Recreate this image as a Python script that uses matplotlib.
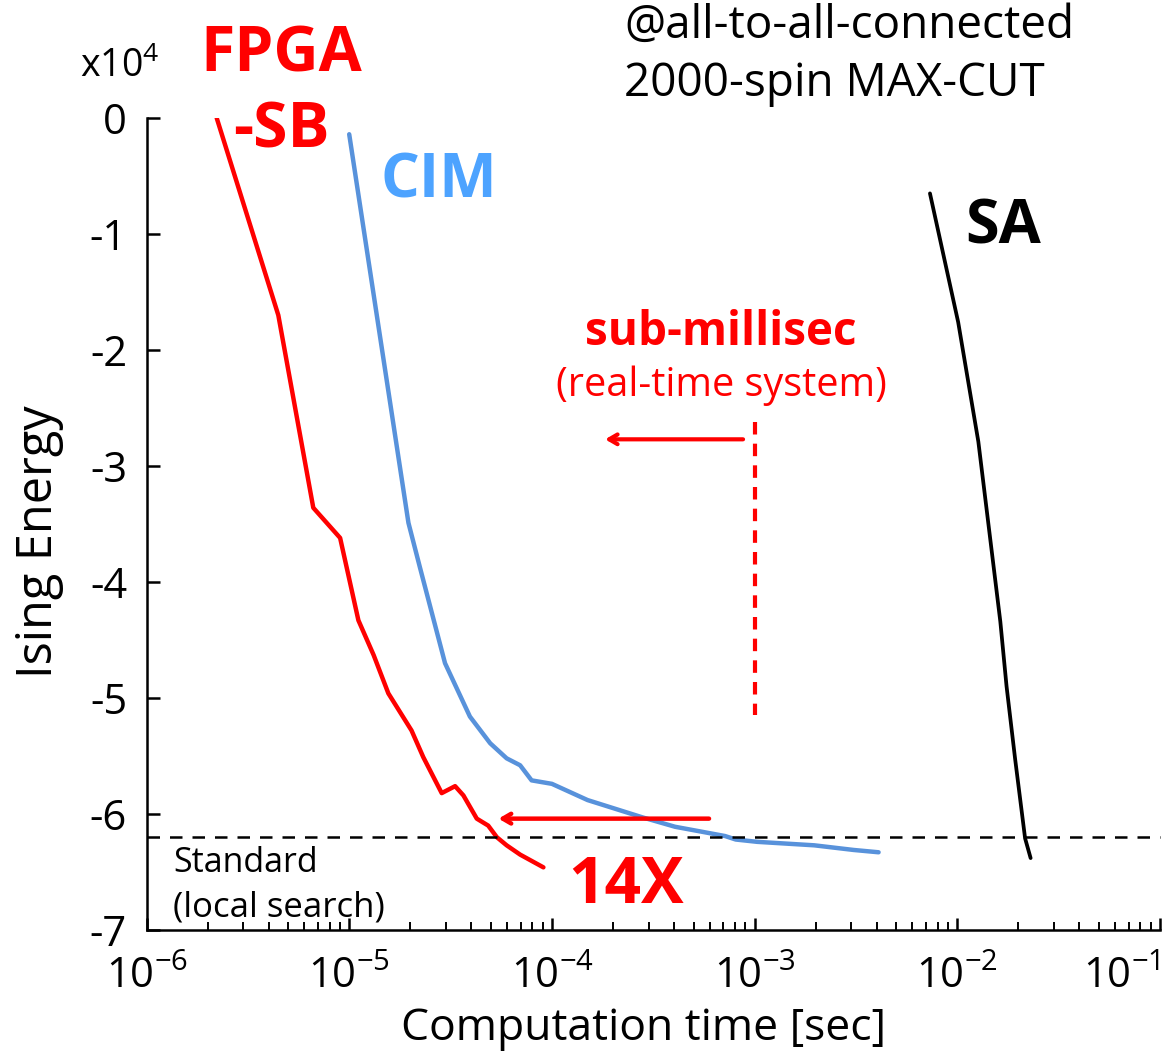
import matplotlib
matplotlib.use('Agg')
import matplotlib.pyplot as plt
from matplotlib.ticker import LogLocator, NullFormatter

plt.rcParams['font.family'] = ['Open Sans', 'DejaVu Sans']
plt.rcParams['mathtext.fontset'] = 'custom'
plt.rcParams['mathtext.rm'] = 'Open Sans'
plt.rcParams['mathtext.it'] = 'Open Sans'
plt.rcParams['mathtext.bf'] = 'Open Sans:bold'
plt.rcParams['mathtext.default'] = 'regular'

# ---- data (energy in units of 1e4) ----
fpga_t = [2.22e-6, 4.47e-6, 6.65e-6, 9.02e-6, 1.11e-5, 1.32e-5, 1.56e-5, 2.03e-5,
          2.32e-5, 2.86e-5, 3.33e-5, 3.66e-5, 4.26e-5, 4.85e-5, 5.35e-5, 5.98e-5,
          6.97e-5, 9.08e-5]
fpga_e = [0.0, -1.70, -3.36, -3.62, -4.33, -4.63, -4.96, -5.28,
          -5.51, -5.82, -5.76, -5.84, -6.04, -6.10, -6.20, -6.27,
          -6.35, -6.46]

cim_t = [1.0e-5, 1.96e-5, 2.23e-5, 2.97e-5, 3.94e-5, 4.96e-5, 5.98e-5, 6.97e-5,
         7.94e-5, 1.0e-4, 1.50e-4, 2.81e-4, 4.05e-4, 7.15e-4, 8.07e-4, 1.03e-3,
         1.97e-3, 3.08e-3, 4.09e-3]
cim_e = [-0.14, -3.49, -3.87, -4.70, -5.16, -5.39, -5.52, -5.58,
         -5.71, -5.74, -5.88, -6.03, -6.11, -6.19, -6.22, -6.24,
         -6.27, -6.31, -6.33]

sa_t = [7.33e-3, 1.01e-2, 1.27e-2, 1.63e-2, 1.75e-2, 1.93e-2, 2.16e-2, 2.30e-2]
sa_e = [-0.65, -1.76, -2.79, -4.34, -4.90, -5.53, -6.21, -6.38]

standard_e = -6.2
xticks = [1e-6, 1e-5, 1e-4, 1e-3, 1e-2, 1e-1]
xtick_labels = ['$10^{-6}$', '$10^{-5}$', '$10^{-4}$', '$10^{-3}$', '$10^{-2}$', '$10^{-1}$']
yticks = [-7, -6, -5, -4, -3, -2, -1, 0]
ytick_labels = ['-7', '-6', '-5', '-4', '-3', '-2', '-1', '0']

RED = '#ff0000'
BLUE_LINE = '#5892db'
BLUE_TEXT = '#4da3ff'

W, H = 1165, 1054
fig = plt.figure(figsize=(W / 100, H / 100), dpi=100)
ax = fig.add_axes([146.5 / W, 1 - 930 / H, (1160 - 146.5) / W, (930 - 118) / H])
ax.set_xscale('log')
ax.set_xlim(1e-6, 1e-1)
ax.set_ylim(-7, 0)

for s in ['top', 'right']:
    ax.spines[s].set_visible(False)
for s in ['left', 'bottom']:
    ax.spines[s].set_linewidth(1.8)

ax.plot(fpga_t, fpga_e, color=RED, lw=3.2, solid_capstyle='round', solid_joinstyle='round')
ax.plot(cim_t, cim_e, color=BLUE_LINE, lw=3.2, solid_capstyle='round', solid_joinstyle='round')
ax.plot(sa_t, sa_e, color='black', lw=2.7, solid_capstyle='round', solid_joinstyle='round')

ax.axhline(standard_e, xmin=0, xmax=1.0, color='black', lw=1.8, ls=(0, (5, 4)), clip_on=False)

# vertical 1 ms dashed line
ax.plot([1e-3, 1e-3], [-2.62, -5.15], color=RED, lw=3.0, ls=(0, (3.0, 2.2)))
# arrows
ax.annotate('', xy=(1.83e-4, -2.77), xytext=(8.77e-4, -2.77),
            arrowprops=dict(arrowstyle='->,head_length=0.6,head_width=0.35', color=RED, lw=3.0,
                            shrinkA=0, shrinkB=0))
ax.annotate('', xy=(5.45e-5, -6.04), xytext=(5.96e-4, -6.04),
            arrowprops=dict(arrowstyle='->,head_length=0.6,head_width=0.35', color=RED, lw=3.2,
                            shrinkA=0, shrinkB=0))

ax.set_xticks(xticks)
ax.set_xticklabels(xtick_labels)
ax.xaxis.set_minor_locator(LogLocator(base=10, subs=[2, 3, 4, 5, 6, 7, 8, 9], numticks=20))
ax.xaxis.set_minor_formatter(NullFormatter())
ax.set_yticks(yticks)
ax.set_yticklabels(ytick_labels)
ax.tick_params(axis='both', which='major', direction='in', length=9, width=1.8)
ax.tick_params(axis='x', which='major', labelsize=30, pad=19)
ax.tick_params(axis='y', which='major', labelsize=30, pad=14)
ax.tick_params(axis='x', which='minor', direction='in', length=6, width=1.4)
ax.xaxis.get_ticklabels()[-1].set_ha('right')

def fx(px):
    return px / W

def fy(py):
    return 1 - py / H

# axis labels
fig.text(fx(644), fy(1040), 'Computation time [sec]', fontsize=32, ha='center', va='baseline')
fig.text(fx(64), fy(542), 'Ising Energy', fontsize=35, rotation=90, ha='right', va='center')
fig.text(fx(80), fy(77), 'x10$^{4}$', fontsize=27, ha='left', va='baseline')

# annotations
fig.text(fx(281), fy(72), 'FPGA', fontsize=45, fontweight='bold', color=RED, ha='center', va='baseline')
fig.text(fx(281), fy(148), '-SB', fontsize=45, fontweight='bold', color=RED, ha='center', va='baseline')
fig.text(fx(380), fy(198), 'CIM', fontsize=44, fontweight='bold', color=BLUE_TEXT, ha='left', va='baseline')
fig.text(fx(965), fy(243), 'SA', fontsize=44, fontweight='bold', color='black', ha='left', va='baseline')
fig.text(fx(568), fy(903), '14X', fontsize=46, fontweight='bold', color=RED, ha='left', va='baseline')
fig.text(fx(721), fy(345), 'sub-millisec', fontsize=33, fontweight='bold', color=RED, ha='center', va='baseline')
fig.text(fx(721), fy(396), '(real-time system)', fontsize=28.5, color=RED, ha='center', va='baseline')
fig.text(fx(624), fy(38), '@all-to-all-connected', fontsize=33, ha='left', va='baseline')
fig.text(fx(624), fy(96), '2000-spin MAX-CUT', fontsize=33, ha='left', va='baseline')
fig.text(fx(173), fy(872), 'Standard', fontsize=24.5, ha='left', va='baseline')
fig.text(fx(173), fy(917), '(local search)', fontsize=25, ha='left', va='baseline')

fig.savefig('out.png', dpi=100)
